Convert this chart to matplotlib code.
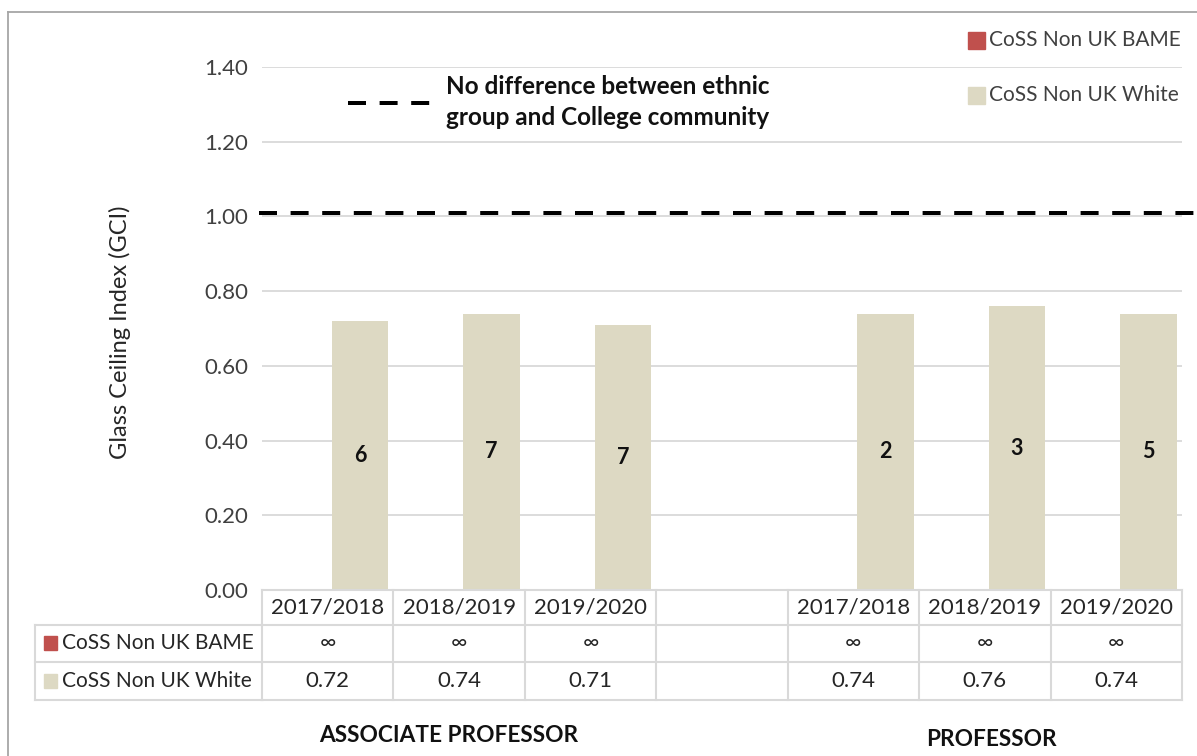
import matplotlib
matplotlib.use("Agg")
import matplotlib.pyplot as plt
import matplotlib.transforms as mtransforms
from matplotlib.lines import Line2D
from matplotlib.patches import Rectangle

plt.rcParams['font.family'] = ['Lato', 'DejaVu Sans']

# ---- data ----
years = ["2017/2018", "2018/2019", "2019/2020", "", "2017/2018", "2018/2019", "2019/2020"]
bame_labels = ["∞", "∞", "∞", "", "∞", "∞", "∞"]
white_gci = [0.72, 0.74, 0.71, None, 0.74, 0.76, 0.74]
white_counts = [6, 7, 7, None, 2, 3, 5]
groups = ["ASSOCIATE PROFESSOR", "PROFESSOR"]
series_names = ["CoSS Non UK BAME", "CoSS Non UK White"]
reference_gci = 1.01
ref_label = "No difference between ethnic\ngroup and College community"
yticks = [0.0, 0.2, 0.4, 0.6, 0.8, 1.0, 1.2, 1.4]

BAME_COLOR = "#C0504D"
WHITE_COLOR = "#DDD9C3"
GRID = "#D9D9D9"

W, H = 1197, 756
fig = plt.figure(figsize=(W / 100, H / 100), dpi=100)


def fx(px):
    return px / W


def fy(py):
    return 1 - py / H


ax_left, ax_right, ax_top, ax_bottom = 262, 1182, 67, 590
ax = fig.add_axes([fx(ax_left), fy(ax_bottom), fx(ax_right) - fx(ax_left), fy(ax_top) - fy(ax_bottom)])
ax.set_xlim(-0.5, len(years) - 0.5)
ax.set_ylim(0, 1.4)
for s in ax.spines.values():
    s.set_visible(False)
ax.set_xticks([])
ax.set_yticks(yticks)
ax.set_yticklabels([f"{v:.2f}" for v in yticks], fontsize=16, color="#404040")
ax.tick_params(axis="y", length=0, pad=10)
for v in yticks[1:]:
    ax.axhline(v, color=GRID, lw=1.3, zorder=0)
fig.text(fx(120), fy(332), "Glass Ceiling Index (GCI)", rotation=90, ha="center", va="center",
         fontsize=17, color="#262626")

# bars (BAME index is infinite, so only the White series is drawn)
offset, width = 0.245, 0.43
for i, (v, n) in enumerate(zip(white_gci, white_counts)):
    if v is None:
        continue
    ax.bar(i + offset, v, width=width, color=WHITE_COLOR, zorder=2)
    ax.text(i + offset, v / 2, str(n), ha="center", va="center",
            fontsize=15.5, fontweight="bold", color="#111111", zorder=3)

# reference line at GCI = 1
ref_lw = 4 * 0.72
dash = (4.5, 3.4)
ax.plot([-0.52, 7.2], [reference_gci, reference_gci], color="black", lw=ref_lw,
        linestyle=(0, dash), clip_on=False, zorder=4, solid_capstyle="butt", dash_capstyle="butt")

# reference legend entry
fig.add_artist(Line2D([fx(348), fx(432)], [fy(103), fy(103)], color="black", lw=ref_lw,
                      linestyle=(0, dash), dash_capstyle="butt"))
fig.text(fx(446), fy(102), ref_label, fontsize=17.5, fontweight="bold", color="#111111",
         ha="left", va="center", linespacing=1.38)

# series legend
for name, col, py in zip(series_names, [BAME_COLOR, WHITE_COLOR], [40, 95]):
    fig.add_artist(Rectangle((fx(968), fy(py + 8.5)), fx(17), 17 / H, color=col, transform=fig.transFigure))
    fig.text(fx(989), fy(py), name, fontsize=15, color="#404040", ha="left", va="center")

# data table below the axis
bt = mtransforms.blended_transform_factory(ax.transData, fig.transFigure)
row_y = [590, 625, 662, 700]
lab_left = 35
lc = dict(color=GRID, lw=1.5)
for k in range(len(years) + 1):
    fig.add_artist(Line2D([k - 0.5, k - 0.5], [fy(row_y[0]), fy(row_y[-1])], transform=bt, **lc))
fig.add_artist(Line2D([-0.5, len(years) - 0.5], [fy(row_y[0])] * 2, transform=bt, **lc))
for py in row_y[1:]:
    fig.add_artist(Line2D([fx(lab_left), fx(ax_left)], [fy(py)] * 2, **lc))
    fig.add_artist(Line2D([-0.5, len(years) - 0.5], [fy(py)] * 2, transform=bt, **lc))
fig.add_artist(Line2D([fx(lab_left)] * 2, [fy(row_y[1]), fy(row_y[-1])], **lc))

tcol = "#262626"
for i, (yr, b, w) in enumerate(zip(years, bame_labels, white_gci)):
    fig.text(i, fy(607), yr, transform=bt, ha="center", va="center", fontsize=16, color=tcol)
    fig.text(i, fy(643), b, transform=bt, ha="center", va="center", fontsize=16, color=tcol)
    if w is not None:
        fig.text(i, fy(681), f"{w:.2f}", transform=bt, ha="center", va="center", fontsize=16, color=tcol)

for name, col, py in zip(series_names, [BAME_COLOR, WHITE_COLOR], [643, 681]):
    fig.add_artist(Rectangle((fx(44), fy(py + 7)), fx(13), 14 / H, color=col, transform=fig.transFigure))
    fig.text(fx(62), fy(py), name, fontsize=15, color=tcol, ha="left", va="center")

# group labels
fig.text(fx(449), fy(735), groups[0], ha="center", va="center", fontsize=16.3, fontweight="bold", color="#111111")
fig.text(fx(991), fy(740), groups[1], ha="center", va="center", fontsize=16.3, fontweight="bold", color="#111111")

# chart frame (runs off the right and bottom edges)
fig.add_artist(Line2D([fx(8), fx(8)], [fy(12), 0], color="#A6A6A6", lw=1.3))
fig.add_artist(Line2D([fx(8), 1], [fy(12), fy(12)], color="#A6A6A6", lw=1.3))

fig.savefig("out.png", dpi=100)
